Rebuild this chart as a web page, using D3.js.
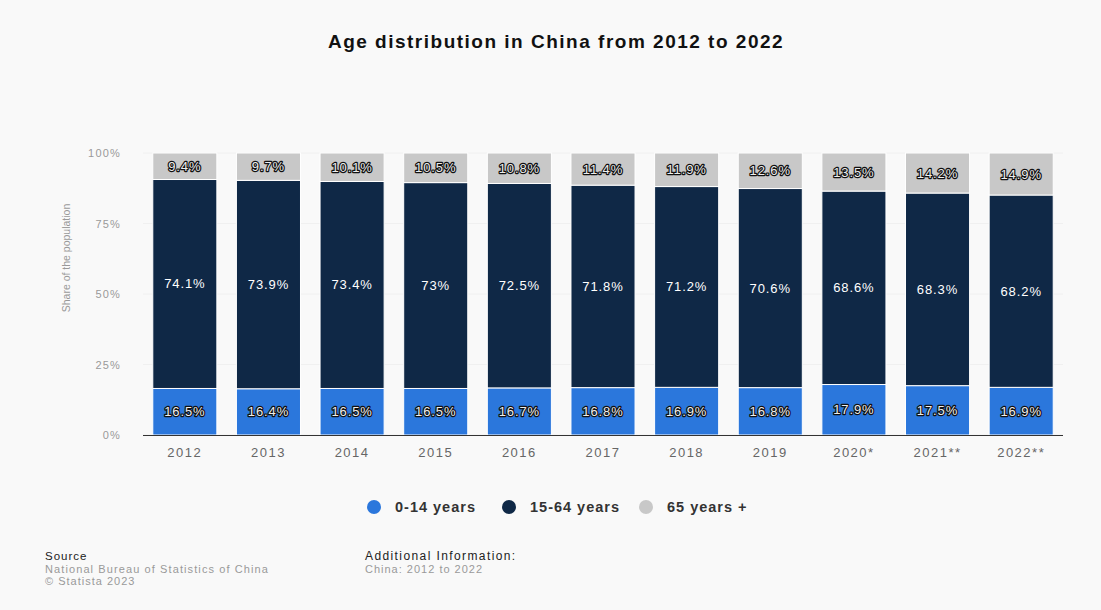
<!DOCTYPE html>
<html>
<head>
<meta charset="utf-8">
<script src="https://cdn.jsdelivr.net/npm/d3@7"></script>
<style>
body{margin:0;background:#f9f9f9;font-family:"Liberation Sans",Arial,sans-serif;}
</style>
</head>
<body>
<script>
var years = ["2012","2013","2014","2015","2016","2017","2018","2019","2020*","2021**","2022**"];
var young = [16.5,16.4,16.5,16.5,16.7,16.8,16.9,16.8,17.9,17.5,16.9];   // 0-14
var working = [74.1,73.9,73.4,73,72.5,71.8,71.2,70.6,68.6,68.3,68.2];  // 15-64
var old = [9.4,9.7,10.1,10.5,10.8,11.4,11.9,12.6,13.5,14.2,14.9];      // 65+
var seriesNames = ["0-14 years","15-64 years","65 years +"];
var yTicks = [0,25,50,75,100];

var colors = ["#2b77dc","#0f2846","#c8c8c8"];
var W = 1101, H = 610;

var svg = d3.select("body").append("svg").attr("width",W).attr("height",H);
svg.append("rect").attr("width",W).attr("height",H).attr("fill","#f9f9f9");

// title
svg.append("text").attr("x",556).attr("y",48).attr("text-anchor","middle")
  .attr("font-size","19px").attr("font-weight","bold").attr("fill","#111")
  .attr("letter-spacing","1.5px")
  .text("Age distribution in China from 2012 to 2022");

var x = d3.scaleBand().domain(years).range([143,1063]).paddingInner(0.234).paddingOuter(0.117);
var y = d3.scaleLinear().domain([0,100]).range([435,153]);

// grid
svg.append("g").selectAll("line").data(yTicks).enter().append("line")
  .attr("x1",143).attr("x2",1063)
  .attr("y1",function(d){return y(d);}).attr("y2",function(d){return y(d);})
  .attr("stroke","#f0f0f0").attr("stroke-width",1);

// y tick labels
svg.append("g").selectAll("text").data(yTicks).enter().append("text")
  .attr("x",121).attr("y",function(d){return y(d)+4;})
  .attr("text-anchor","end").attr("font-size","11px").attr("fill","#999")
  .attr("letter-spacing","1.2px")
  .text(function(d){return d+"%";});

svg.append("text").attr("transform","translate(70,258) rotate(-90)")
  .attr("text-anchor","middle").attr("font-size","10.5px").attr("fill","#999")
  .text("Share of the population");

var rows = years.map(function(yr,i){return {year:yr,a:young[i],b:working[i],c:old[i]};});
var stack = d3.stack().keys(["a","b","c"])(rows);

var layers = svg.append("g").selectAll("g").data(stack).enter().append("g")
  .attr("fill",function(d,i){return colors[i];});

layers.selectAll("rect").data(function(d){return d;}).enter().append("rect")
  .attr("x",function(d){return x(d.data.year);})
  .attr("width",x.bandwidth())
  .attr("y",function(d){return y(d[1]);})
  .attr("height",function(d){return y(d[0])-y(d[1]);})
  .attr("stroke","#fff").attr("stroke-width",1);

// value labels
stack.forEach(function(layer,li){
  var g = svg.append("g");
  g.selectAll("text").data(layer).enter().append("text")
    .attr("x",function(d){return x(d.data.year)+x.bandwidth()/2;})
    .attr("y",function(d){return (y(d[0])+y(d[1]))/2+4.5;})
    .attr("text-anchor","middle")
    .attr("font-size","13px")
    .attr("letter-spacing","0.9px")
    .attr("fill", li==1 ? "#fff" : "#eee")
    .attr("stroke", li==1 ? "none" : "#111")
    .attr("stroke-width", li==1 ? 0 : 2.4)
    .attr("stroke-linejoin","round")
    .attr("paint-order","stroke")
    .text(function(d){return (Math.round((d[1]-d[0])*10)/10)+"%";});
});

// x axis
svg.append("line").attr("x1",143).attr("x2",1063).attr("y1",435.5).attr("y2",435.5)
  .attr("stroke","#333").attr("stroke-width",1);
svg.append("g").selectAll("text").data(years).enter().append("text")
  .attr("x",function(d){return x(d)+x.bandwidth()/2;})
  .attr("y",457).attr("text-anchor","middle").attr("font-size","13px").attr("fill","#666")
  .attr("letter-spacing","1.5px")
  .text(function(d){return d;});

// legend
var legX = [374,509,646];
var leg = svg.append("g").selectAll("g").data(seriesNames).enter().append("g")
  .attr("transform",function(d,i){return "translate("+legX[i]+",507)";});
leg.append("circle").attr("r",7).attr("fill",function(d,i){return colors[i];});
leg.append("text").attr("x",21).attr("y",5).attr("font-size","14.5px").attr("font-weight","bold")
  .attr("letter-spacing","1px")
  .attr("fill","#333").text(function(d){return d;});

// footer
var foot = svg.append("g").attr("letter-spacing","1px");
foot.append("text").attr("x",45).attr("y",560).attr("font-size","11.5px").attr("fill","#222").text("Source");
foot.append("text").attr("x",45).attr("y",573).attr("font-size","11px").attr("fill","#999").attr("letter-spacing","1.1px").text("National Bureau of Statistics of China");
foot.append("text").attr("x",45).attr("y",585).attr("font-size","11px").attr("fill","#999").text("\u00a9 Statista 2023");
foot.append("text").attr("x",365).attr("y",560).attr("font-size","12px").attr("fill","#222").attr("letter-spacing","1.4px").text("Additional Information:");
foot.append("text").attr("x",365).attr("y",573).attr("font-size","11px").attr("fill","#999").text("China: 2012 to 2022");
</script>
</body>
</html>
